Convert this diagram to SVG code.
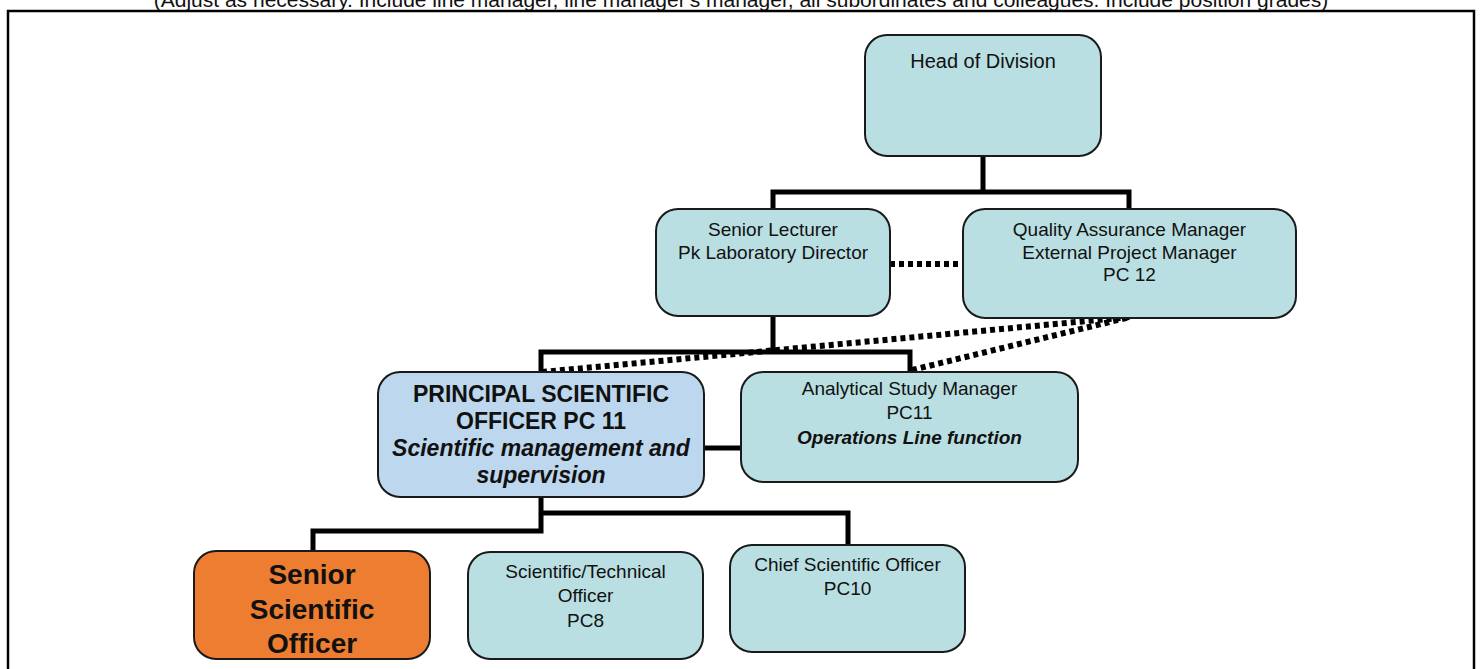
<svg xmlns="http://www.w3.org/2000/svg" width="1483" height="669" viewBox="0 0 1483 669">
<style>
.box{stroke:#1a1a1a;stroke-width:2}
.teal{fill:#B9DFE2}
.blue{fill:#BDD7EE}
.orange{fill:#ED7D31}
.t{font-family:"Liberation Sans",Arial,sans-serif;font-size:19px;fill:#111;text-anchor:middle}
.b{font-weight:bold}
.bi{font-weight:bold;font-style:italic}
.solid{stroke:#000;stroke-width:5;fill:none;stroke-linejoin:miter}
.dot{stroke:#000;stroke-width:6;fill:none;stroke-dasharray:5 4}
</style>
<rect width="1483" height="669" fill="#fff"/>
<text class="t" x="741" y="7" style="font-size:21px">(Adjust as necessary. Include line manager, line manager's manager, all subordinates and colleagues. Include position grades)</text>
<rect x="8" y="11" width="1466" height="700" fill="none" stroke="#000" stroke-width="2.5"/>
<g id="connectors">
<path class="solid" d="M983 156V192M773 209V192H1129V209"/>
<path class="solid" d="M773 316V352M541 371V352H910V371"/>
<path class="solid" d="M704 448H741"/>
<path class="solid" d="M541 497V513H848V545M541 513V531H313V551"/>
<path class="dot" d="M890 264H963"/>
<path class="dot" d="M542 372L1130 317"/>
<path class="dot" d="M912 370L1130 317"/>
</g>
<g id="head">
<rect class="box teal" x="865" y="35" width="236" height="121" rx="22"/>
<text class="t" x="983" y="68" style="font-size:20px">Head of Division</text>
</g>
<g id="senior-lecturer">
<rect class="box teal" x="656" y="209" width="234" height="107" rx="22"/>
<text class="t"><tspan x="773" y="236">Senior Lecturer</tspan><tspan x="773" y="259">Pk Laboratory Director</tspan></text>
</g>
<g id="qa-manager">
<rect class="box teal" x="963" y="209" width="333" height="109" rx="22"/>
<text class="t"><tspan x="1129.5" y="236">Quality Assurance Manager</tspan><tspan x="1129.5" y="259">External Project Manager</tspan><tspan x="1129.5" y="281">PC 12</tspan></text>
</g>
<g id="pso">
<rect class="box blue" x="378" y="372" width="326" height="125" rx="22"/>
<text class="t b" style="font-size:23px"><tspan x="541" y="402">PRINCIPAL SCIENTIFIC</tspan><tspan x="541" y="429">OFFICER PC 11</tspan><tspan class="bi" x="541" y="456">Scientific management and</tspan><tspan class="bi" x="541" y="483">supervision</tspan></text>
</g>
<g id="analytical">
<rect class="box teal" x="741" y="372" width="337" height="110" rx="22"/>
<text class="t"><tspan x="909.5" y="395">Analytical Study Manager</tspan><tspan x="909.5" y="419">PC11</tspan><tspan class="bi" x="909.5" y="444">Operations Line function</tspan></text>
</g>
<g id="senior-scientific">
<rect class="box orange" x="194" y="551" width="236" height="108" rx="22"/>
<text class="t b" style="font-size:28px"><tspan x="312" y="584">Senior</tspan><tspan x="312" y="619">Scientific</tspan><tspan x="312" y="653">Officer</tspan></text>
</g>
<g id="sci-tech">
<rect class="box teal" x="468" y="552" width="235" height="107" rx="22"/>
<text class="t"><tspan x="585.5" y="578">Scientific/Technical</tspan><tspan x="585.5" y="602">Officer</tspan><tspan x="585.5" y="627">PC8</tspan></text>
</g>
<g id="chief">
<rect class="box teal" x="730" y="545" width="235" height="107" rx="22"/>
<text class="t"><tspan x="847.5" y="571">Chief Scientific Officer</tspan><tspan x="847.5" y="595">PC10</tspan></text>
</g>
</svg>
